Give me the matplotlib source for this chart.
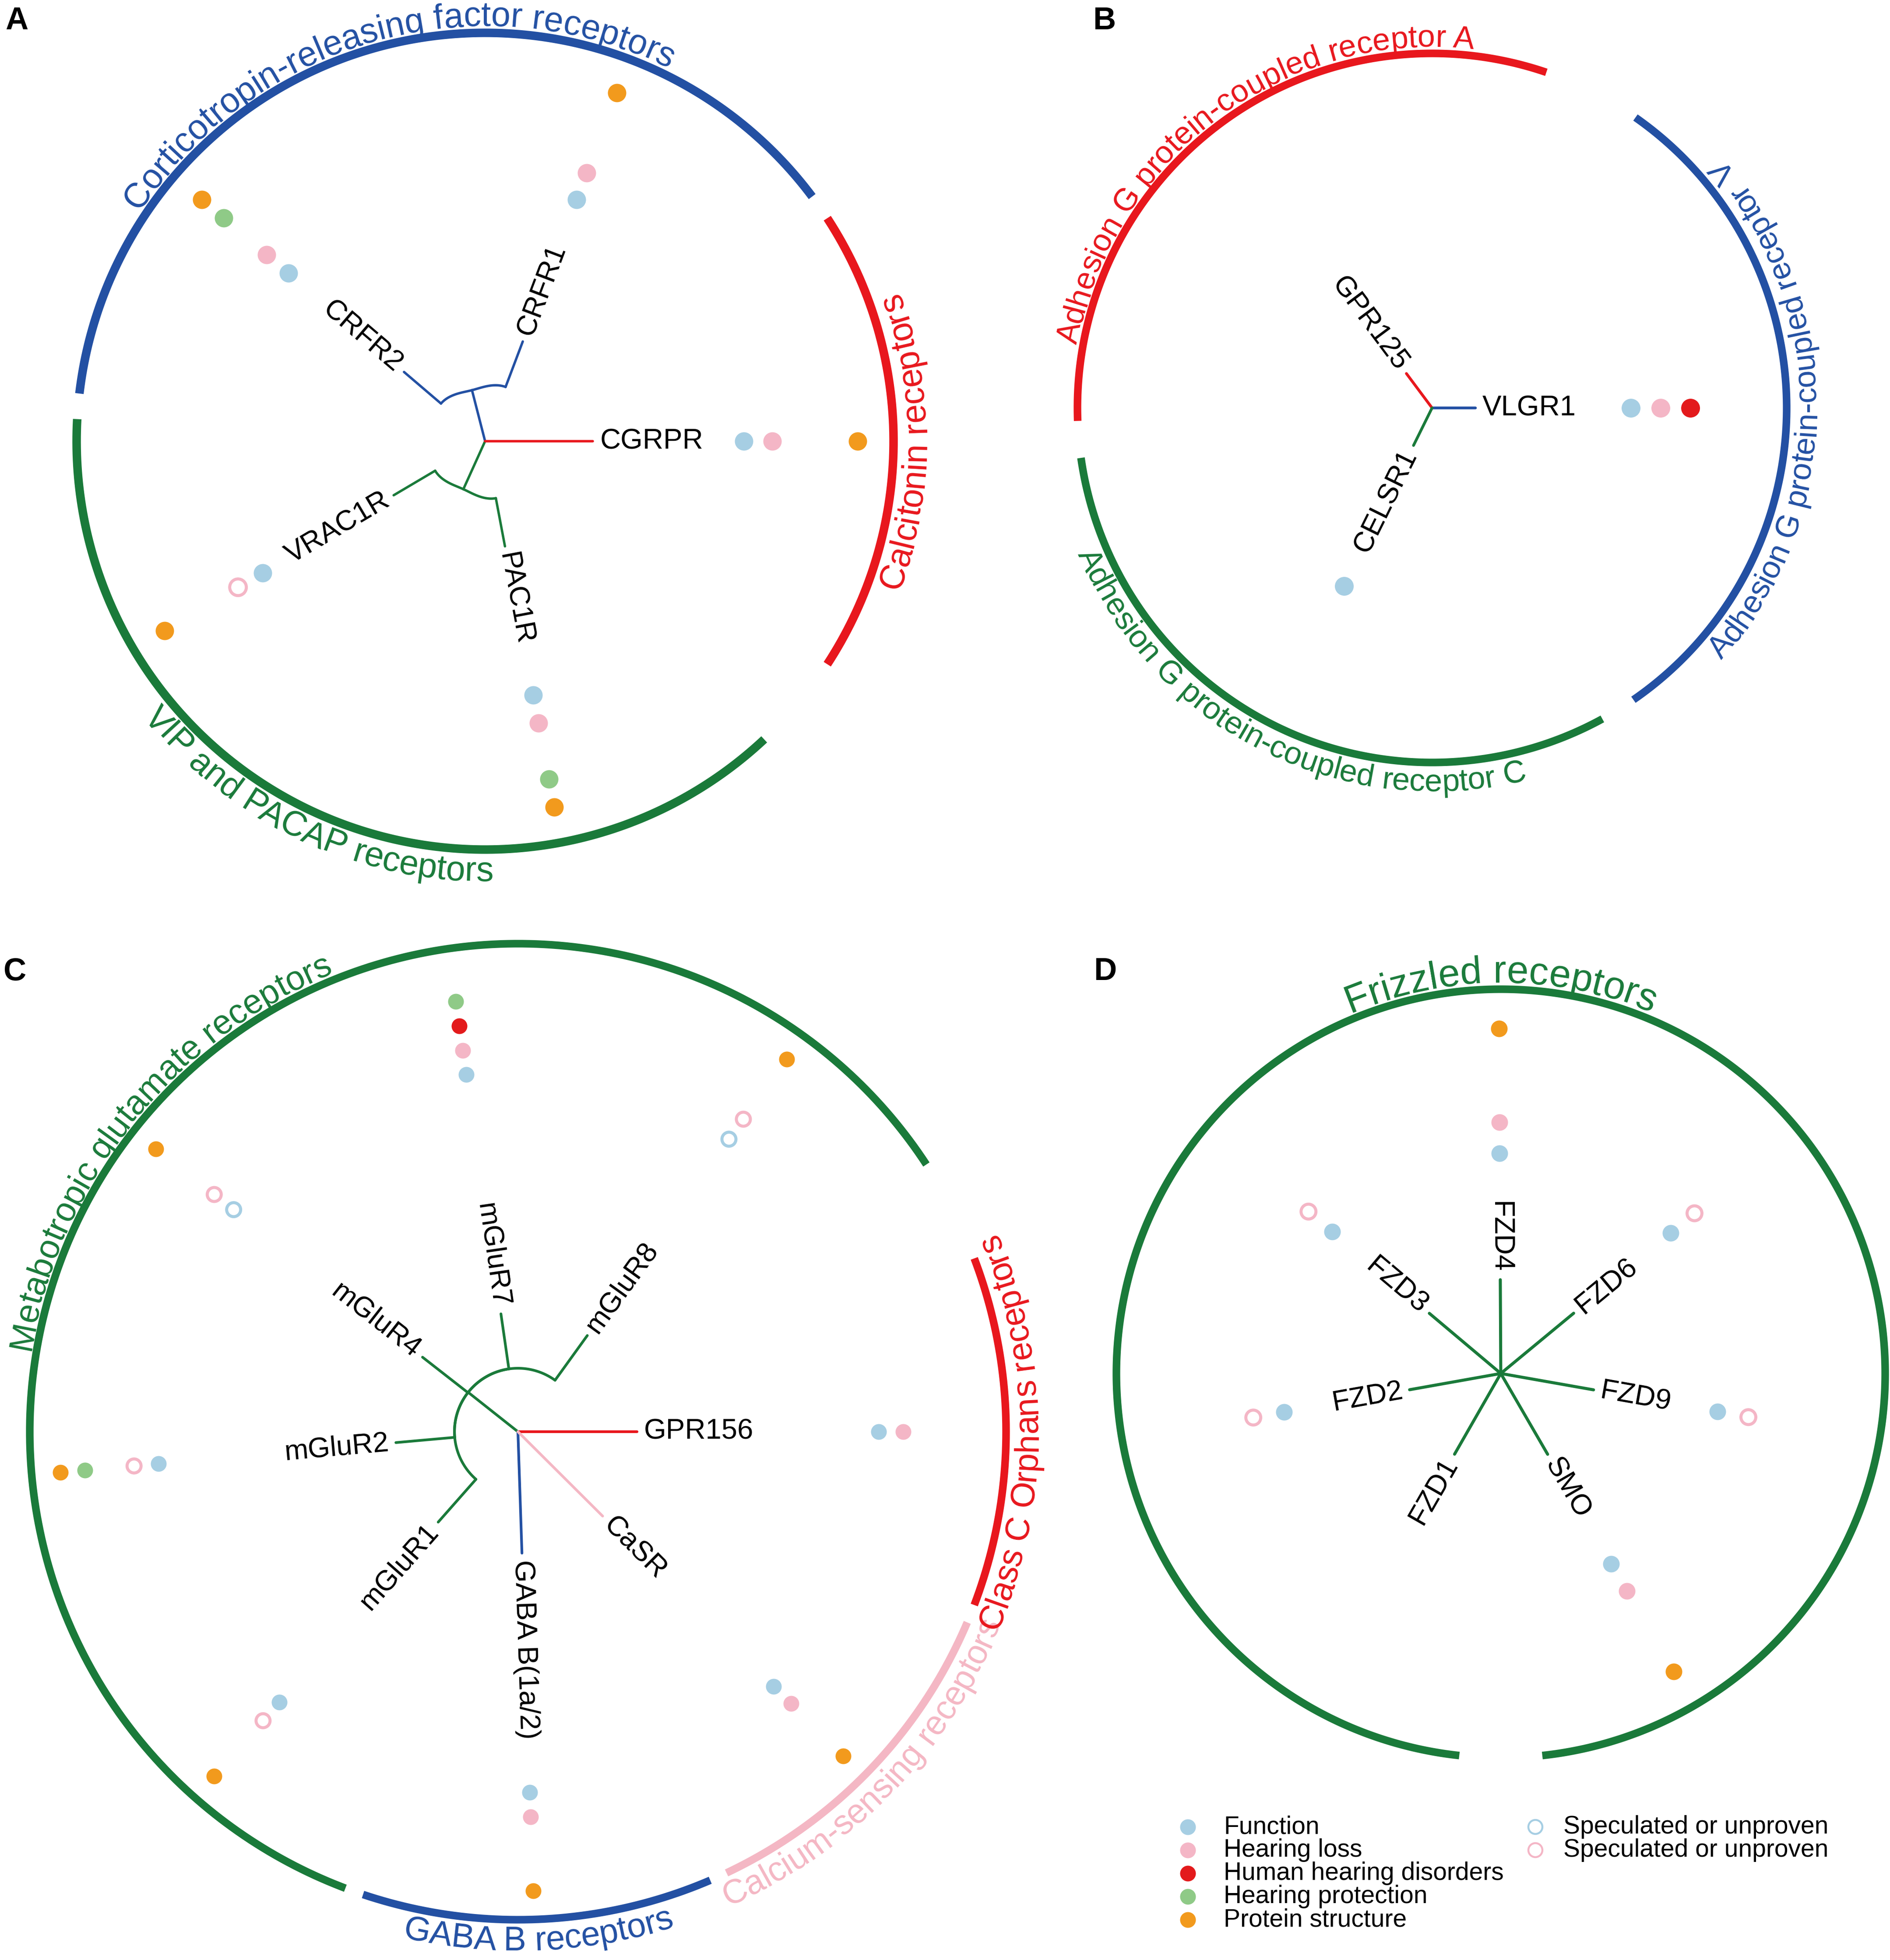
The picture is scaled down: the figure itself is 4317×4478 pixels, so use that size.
import numpy as np
import matplotlib
matplotlib.use('Agg')
import matplotlib.pyplot as plt
from matplotlib.font_manager import FontProperties

FONT = 'Liberation Sans'
plt.rcParams['font.family'] = [FONT, 'DejaVu Sans']

W, H, DPI = 4317, 4478, 100
PT = 72.0 / DPI  # points per pixel

BLUE = '#2350A3'
RED = '#E8171D'
GREEN = '#1A7A3A'
PINK = '#F4B7C4'
C_FUNCTION = '#A6CEE3'
C_LOSS = '#F4B6C6'
C_HUMAN = '#E31A1C'
C_PROTECT = '#8FCA87'
C_STRUCT = '#F29A1D'
GROUP_COL = {'blue': BLUE, 'red': RED, 'green': GREEN, 'pink': PINK}

# ---------------- Panel A data ----------------
A_tips = ['CRFR1', 'CRFR2', 'CGRPR', 'VRAC1R', 'PAC1R']
A_angle = [69.3, 139.5, 0.0, 210.6, 280.7]
A_len = [0.261, 0.261, 0.264, 0.260, 0.262]
A_group = ['blue', 'blue', 'red', 'green', 'green']
A_clades = [['CRFR1', 'CRFR2'], ['VRAC1R', 'PAC1R']]
A_node_r = [0.129, 0.129]
A_join_r = [0.142, 0.142]
A_arc_names = ['Corticotropin-releasing factor receptors', 'Calcitonin receptors',
               'VIP and PACAP receptors']
A_arc_start = [36.8, -33.1, 176.9]
A_arc_end = [173.3, 33.1, 313.1]
A_arc_group = ['blue', 'red', 'green']
A_function = ['CRFR1', 'CRFR2', 'CGRPR', 'VRAC1R', 'PAC1R']
A_function_spec = []
A_loss = ['CRFR1', 'CRFR2', 'CGRPR', 'PAC1R']
A_loss_spec = ['VRAC1R']
A_human = []
A_protect = ['CRFR2', 'PAC1R']
A_struct = ['CRFR1', 'CRFR2', 'CGRPR', 'VRAC1R', 'PAC1R']

# ---------------- Panel B data ----------------
B_tips = ['VLGR1', 'GPR125', 'CELSR1']
B_angle = [0.0, 126.7, 243.7]
B_len = [0.122, 0.121, 0.118]
B_group = ['blue', 'red', 'green']
B_clades = []
B_node_r = []
B_join_r = []
B_arc_names = ['Adhesion G protein-coupled receptor A', 'Adhesion G protein-coupled receptor V',
               'Adhesion G protein-coupled receptor C']
B_arc_start = [71.2, -55.4, 188.1]
B_arc_end = [182.1, 55.0, 298.7]
B_arc_group = ['red', 'blue', 'green']
B_function = ['VLGR1', 'CELSR1']
B_function_spec = []
B_loss = ['VLGR1']
B_loss_spec = []
B_human = ['VLGR1']
B_protect = []
B_struct = []

# ---------------- Panel C data ----------------
C_tips = ['GPR156', 'mGluR8', 'mGluR7', 'mGluR4', 'mGluR2', 'mGluR1', 'GABA B(1a/2)', 'CaSR']
C_angle = [0.0, 54.2, 98.2, 142.0, 185.1, 228.6, 271.9, 315.1]
C_len = [0.2435, 0.243, 0.244, 0.248, 0.251, 0.247, 0.249, 0.245]
C_group = ['red', 'green', 'green', 'green', 'green', 'green', 'blue', 'pink']
C_clades = [['mGluR8', 'mGluR7', 'mGluR4', 'mGluR2', 'mGluR1']]
C_node_r = [0.13]
C_join_r = [0.13]
C_arc_names = ['Metabotropic glutamate receptors', 'GABA B receptors',
               'Calcium-sensing receptors', 'Class C Orphans receptors']
C_arc_start = [33.2, 251.5, 295.3, -20.8]
C_arc_end = [249.3, 293.2, 337.0, 20.8]
C_arc_group = ['green', 'blue', 'pink', 'red']
C_function = ['mGluR7', 'mGluR2', 'mGluR1', 'GABA B(1a/2)', 'CaSR', 'GPR156']
C_function_spec = ['mGluR8', 'mGluR4']
C_loss = ['mGluR7', 'GABA B(1a/2)', 'CaSR', 'GPR156']
C_loss_spec = ['mGluR8', 'mGluR4', 'mGluR2', 'mGluR1']
C_human = ['mGluR7']
C_protect = ['mGluR7', 'mGluR2']
C_struct = ['mGluR8', 'mGluR4', 'mGluR2', 'mGluR1', 'GABA B(1a/2)', 'CaSR']

# ---------------- Panel D data ----------------
D_tips = ['FZD4', 'FZD6', 'FZD9', 'SMO', 'FZD1', 'FZD2', 'FZD3']
D_angle = [90.3, 39.6, -10.0, -59.9, 240.2, 190.1, 139.9]
D_len = [0.244, 0.246, 0.245, 0.243, 0.242, 0.241, 0.243]
D_group = ['green'] * 7
D_clades = []
D_node_r = []
D_join_r = []
D_arc_names = ['Frizzled receptors']
D_arc_start = [-83.8]
D_arc_end = [263.8]
D_arc_group = ['green']
D_function = ['FZD4', 'FZD6', 'FZD9', 'SMO', 'FZD2', 'FZD3']
D_function_spec = []
D_loss = ['FZD4', 'SMO']
D_loss_spec = ['FZD6', 'FZD9', 'FZD2', 'FZD3']
D_human = []
D_protect = []
D_struct = ['FZD4', 'SMO']

# ---------------- Legend ----------------
LEG_LABELS = ['Function', 'Hearing loss', 'Human hearing disorders',
              'Hearing protection', 'Protein structure']
LEG_COLORS = [C_FUNCTION, C_LOSS, C_HUMAN, C_PROTECT, C_STRUCT]
LEG2_LABELS = ['Speculated or unproven', 'Speculated or unproven']
LEG2_COLORS = [C_FUNCTION, C_LOSS]

# layout (pixels): center x, center y, circle radius
PANELS = [
    dict(letter='A', letter_xy=(12, 14), center=(1108, 1008), R=933, arc_fs=57, dot_px=42,
         ring0=0.633, ring_step=0.0697, arc_lw=14.0, tree_lw=4.0,
         tips=A_tips, angle=A_angle, length=A_len, group=A_group, clades=A_clades,
         node_r=A_node_r, join_r=A_join_r, arc_names=A_arc_names, arc_start=A_arc_start,
         arc_end=A_arc_end, arc_group=A_arc_group,
         dots=[A_function, A_function_spec, A_loss, A_loss_spec, A_human, A_protect, A_struct]),
    dict(letter='B', letter_xy=(2496, 14), center=(3271, 932), R=810, arc_fs=52, dot_px=43,
         ring0=0.56, ring_step=0.084, arc_lw=12.5, tree_lw=4.6,
         tips=B_tips, angle=B_angle, length=B_len, group=B_group, clades=B_clades,
         node_r=B_node_r, join_r=B_join_r, arc_names=B_arc_names, arc_start=B_arc_start,
         arc_end=B_arc_end, arc_group=B_arc_group,
         dots=[B_function, B_function_spec, B_loss, B_loss_spec, B_human, B_protect, B_struct]),
    dict(letter='C', letter_xy=(8, 2186), center=(1183, 3271), R=1115, arc_fs=56, dot_px=36,
         ring0=0.739, ring_step=0.0505, arc_lw=12.5, tree_lw=4.4,
         tips=C_tips, angle=C_angle, length=C_len, group=C_group, clades=C_clades,
         node_r=C_node_r, join_r=C_join_r, arc_names=C_arc_names, arc_start=C_arc_start,
         arc_end=C_arc_end, arc_group=C_arc_group,
         dots=[C_function, C_function_spec, C_loss, C_loss_spec, C_human, C_protect, C_struct]),
    dict(letter='D', letter_xy=(2498, 2186), center=(3428, 3138), R=878, arc_fs=64, dot_px=38,
         ring0=0.573, ring_step=0.081, arc_lw=12.5, tree_lw=5.0,
         tips=D_tips, angle=D_angle, length=D_len, group=D_group, clades=D_clades,
         node_r=D_node_r, join_r=D_join_r, arc_names=D_arc_names, arc_start=D_arc_start,
         arc_end=D_arc_end, arc_group=D_arc_group,
         dots=[D_function, D_function_spec, D_loss, D_loss_spec, D_human, D_protect, D_struct]),
]
# category styles: (colour, open?, ring index)
DOT_STYLE = [(C_FUNCTION, False, 0), (C_FUNCTION, True, 0), (C_LOSS, False, 1), (C_LOSS, True, 1),
             (C_HUMAN, False, 2), (C_PROTECT, False, 3), (C_STRUCT, False, 4)]

LABEL_FS = 47

fig = plt.figure(figsize=(W / DPI, H / DPI), dpi=DPI)
fig.patch.set_facecolor('white')
renderer = fig.canvas.get_renderer()


def text_w(s, size):
    prop = FontProperties(family=FONT, size=size)
    w, h, d = renderer.get_text_width_height_descent(s, prop, ismath=False)
    return w


def curved_text(ax, s, theta_c, R, size, color, arc_lw):
    top = 0 < (theta_c % 360) < 180
    L = text_w(s, size)
    gap = arc_lw / PT / 2.0 + 6
    cap = 0.716 * size / PT
    r_b = (R + gap) / R if top else (R + gap + cap) / R
    rpx = r_b * R
    for i, ch in enumerate(s):
        if ch == ' ':
            continue
        c = text_w(s[:i + 1], size) - text_w(ch, size) / 2.0
        d = (L / 2.0 - c) / rpx
        if top:
            th = np.deg2rad(theta_c) + d
            rot = np.rad2deg(th) - 90
        else:
            th = np.deg2rad(theta_c) - d
            rot = np.rad2deg(th) + 90
        ax.text(th, r_b, ch, rotation=rot, rotation_mode='anchor', ha='center',
                va='baseline', fontsize=size, color=color, clip_on=False, family=FONT)


def draw_panel(p):
    cx, cy = p['center']
    R = p['R']
    ax = fig.add_axes([(cx - R) / W, (H - cy - R) / H, 2 * R / W, 2 * R / H], projection='polar')
    ax.set_autoscale_on(False)
    ax.set_ylim(0, 1)
    ax.axis('off')
    tip_ang = dict(zip(p['tips'], p['angle']))
    tlw = p['tree_lw']

    # group arcs and their curved labels
    for name, a0, a1, g in zip(p['arc_names'], p['arc_start'], p['arc_end'], p['arc_group']):
        th = np.deg2rad(np.linspace(a0, a1, 500))
        ax.plot(th, np.ones_like(th), color=GROUP_COL[g], lw=p['arc_lw'], solid_capstyle='butt',
                clip_on=False, zorder=2)
        curved_text(ax, name, (a0 + a1) / 2.0, R, p['arc_fs'], GROUP_COL[g], p['arc_lw'])

    # tree
    start_r = {}
    for members, rn, rj in zip(p['clades'], p['node_r'], p['join_r']):
        an = np.mean([tip_ang[m] for m in members])
        col = GROUP_COL[p['group'][p['tips'].index(members[0])]]
        ax.plot([np.deg2rad(an)] * 2, [0, rn], color=col, lw=tlw, clip_on=False,
                solid_capstyle='round')
        for m in members:
            t = np.linspace(0, 1, 80)
            s = 3 * t ** 2 - 2 * t ** 3
            th = np.deg2rad(an + (tip_ang[m] - an) * t)
            rr = rn + (rj - rn) * s
            ax.plot(th, rr, color=col, lw=tlw, clip_on=False, solid_capstyle='round')
            start_r[m] = rj
    for name, a, L, g in zip(p['tips'], p['angle'], p['length'], p['group']):
        r0 = start_r.get(name, 0.0)
        ax.plot([np.deg2rad(a)] * 2, [r0, L], color=GROUP_COL[g], lw=tlw, clip_on=False,
                solid_capstyle='round', zorder=3)
        aa = a % 360
        if 90 < aa <= 270:
            rot, ha = aa - 180, 'right'
        else:
            rot, ha = (aa if aa <= 90 else aa - 360), 'left'
        ax.text(np.deg2rad(a), L + 16.0 / R, name, rotation=rot, rotation_mode='anchor',
                ha=ha, va='center', fontsize=LABEL_FS, color='black', clip_on=False)

    # evidence dots
    dpx = p['dot_px']
    for names, (col, open_, ring) in zip(p['dots'], DOT_STYLE):
        if not names:
            continue
        th = np.deg2rad([tip_ang[n] for n in names])
        rr = np.full(len(names), p['ring0'] + ring * p['ring_step'])
        if open_:
            ax.scatter(th, rr, s=((dpx - 4) * PT) ** 2, facecolors='none', edgecolors=col,
                       linewidths=5.0, clip_on=False, zorder=4)
        else:
            ax.scatter(th, rr, s=(dpx * PT) ** 2, color=col, linewidths=0, clip_on=False, zorder=4)


for p in PANELS:
    draw_panel(p)

# overlay for panel letters and legend (pixel coordinates)
lax = fig.add_axes([0, 0, 1, 1])
lax.set_xlim(0, W)
lax.set_ylim(H, 0)
lax.axis('off')
for p in PANELS:
    lx, ly = p['letter_xy']
    lax.text(lx, ly, p['letter'], fontsize=52, fontweight='bold', ha='left', va='top', color='black')

LEG_X, LEG_TX, LEG_Y0, LEG_DY = 2713, 2795, 4174, 53
for i, (lab, col) in enumerate(zip(LEG_LABELS, LEG_COLORS)):
    y = LEG_Y0 + i * LEG_DY
    lax.scatter([LEG_X], [y], s=(36 * PT) ** 2, color=col, linewidths=0)
    lax.text(LEG_TX, y, lab, fontsize=41, va='center', ha='left')
LEG2_X, LEG2_TX = 3507, 3571
for i, (lab, col) in enumerate(zip(LEG2_LABELS, LEG2_COLORS)):
    y = LEG_Y0 + i * LEG_DY
    lax.scatter([LEG2_X], [y], s=(32 * PT) ** 2, facecolors='none', edgecolors=col, linewidths=3.2)
    lax.text(LEG2_TX, y, lab, fontsize=41, va='center', ha='left')

fig.savefig('out.png', dpi=DPI, facecolor='white')
